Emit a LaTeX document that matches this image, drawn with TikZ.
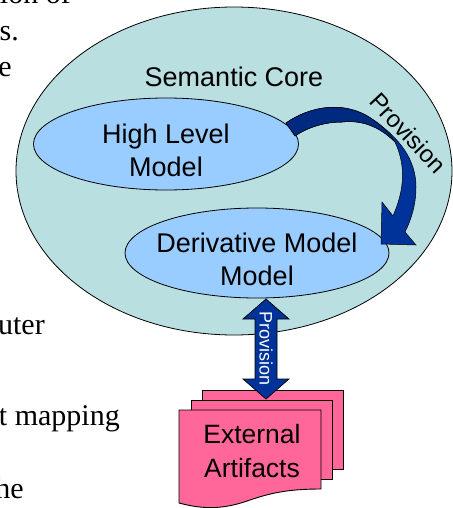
\documentclass[tikz,border=0pt]{standalone}
\usepackage{fontspec}
\setmainfont{Liberation Serif}
\newfontfamily\arialf{Liberation Sans}
\definecolor{coreteal}{HTML}{B9DFE1}
\definecolor{modelblue}{HTML}{99CCFF}
\definecolor{arrowblue}{HTML}{003399}
\definecolor{arrowdark}{HTML}{002A7F}
\definecolor{docpink}{HTML}{FF6699}
\tikzset{
  body/.style={anchor=base east,inner sep=0pt,font=\fontsize{30}{33}\selectfont},
  lab/.style={inner sep=0pt,align=center,font=\arialf\fontsize{27}{32.5}\selectfont},
  oval/.style={ellipse,draw=black,line width=0.8pt,inner sep=0pt},
  doc/.style={draw=black,line width=0.9pt,fill=docpink},
  bluearrow/.style={draw=black,line width=0.5pt,fill=arrowblue},
}
\usetikzlibrary{shapes.geometric}
\begin{document}
\begin{tikzpicture}[x=1pt,y=-1pt]
\useasboundingbox (0,0) rectangle (452,508);
% cropped body text
\node[body] (t1) at (71,4) {ion of};
\node[body] (t2) at (19,41) {s.};
\node[body] (t3) at (12,77) {e};
\node[body] (t4) at (45,334) {uter};
\node[body] (t5) at (120,425) {t mapping};
\node[body] (t6) at (24,498) {he};
% semantic core
\node[oval,fill=coreteal,minimum width=436pt,minimum height=328pt] (core) at (234,171) {};
\node[lab,anchor=base] (corelabel) at (234,87) {Semantic Core};
\node[oval,fill=modelblue,minimum width=265pt,minimum height=92pt] (high) at (166,144) {};
\node[lab] (highlabel) at (166,150.5) {High Level\\Model};
\node[oval,fill=modelblue,minimum width=264pt,minimum height=90pt] (deriv) at (257,253) {};
\node[lab] (derivlabel) at (257,259.5) {Derivative Model\\Model};
% curved provision arrow
\draw[bluearrow,fill=arrowblue]
  (286,123) .. controls (310,106) and (345,100) .. (372,119)
  .. controls (400,138) and (416,160) .. (416,187)
  .. controls (416,205) and (411,220) .. (405,232)
  -- (416,245) -- (381,244) -- (382,202) -- (393,216)
  .. controls (402,195) and (408,170) .. (395,142)
  .. controls (378,125) and (360,120) .. (342,122)
  .. controls (325,122) and (308,127) .. (295,136) -- cycle;
\fill[arrowdark]
  (286,123) .. controls (310,106) and (345,100) .. (372,119)
  .. controls (380,124) and (388,131) .. (395,142)
  .. controls (378,125) and (360,120) .. (342,122)
  .. controls (325,122) and (308,127) .. (295,136) -- cycle;
\draw[black,line width=0.5pt]
  (286,123) .. controls (310,106) and (345,100) .. (372,119)
  .. controls (380,124) and (388,131) .. (395,142)
  .. controls (378,125) and (360,120) .. (342,122)
  .. controls (325,122) and (308,127) .. (295,136) -- cycle;
\node[lab,font=\arialf\fontsize{24}{30}\selectfont,rotate=-47] (provcurve) at (408,133) {Provision};
% artifacts
\draw[doc] (202,390) -- (343,390) -- (343,469) -- (202,469) -- cycle;
\draw[doc] (191,400) -- (332,400) -- (332,479) -- (191,479) -- cycle;
\draw[doc] (179,410) -- (321,410) -- (321,489)
  .. controls (285,489) and (268,494) .. (250,500)
  .. controls (225,509) and (205,510) .. (179,503) -- cycle;
\node[lab,font=\arialf\fontsize{26.5}{34}\selectfont] (artifacts) at (252,451.5) {External\\Artifacts};
% vertical double arrow
\draw[bluearrow,line width=0.7pt] (266,299) -- (289,319) -- (277,319) -- (277,379) -- (289,379)
  -- (266,399) -- (243,379) -- (255,379) -- (255,319) -- (243,319) -- cycle;
\node[inner sep=0pt,rotate=-90,text=white,font=\arialf\fontsize{18}{20}\selectfont] (provvert) at (266,349) {Provision};
\end{tikzpicture}
\end{document}
